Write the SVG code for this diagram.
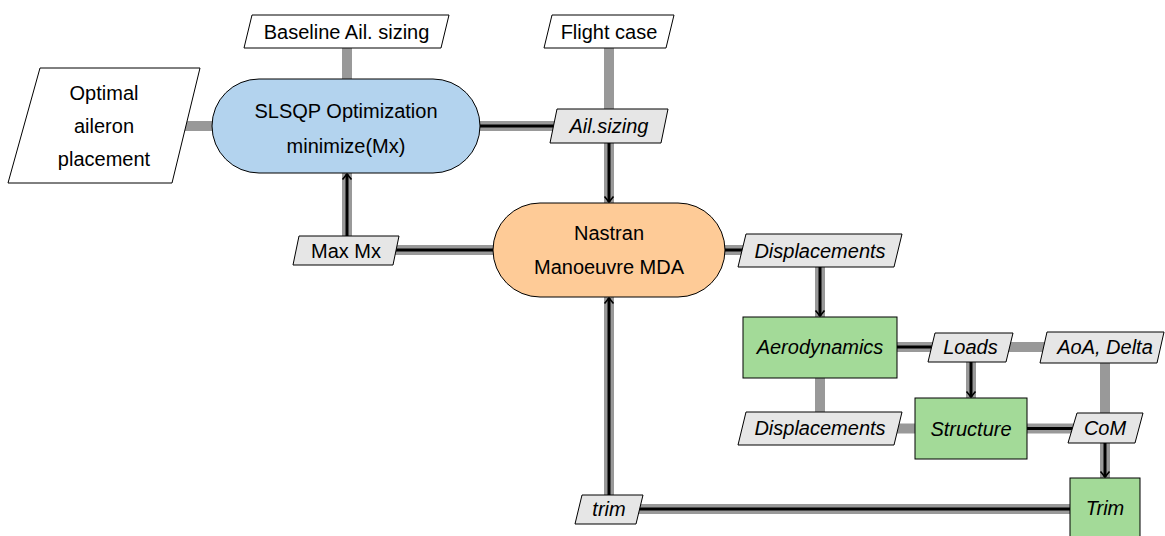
<svg xmlns="http://www.w3.org/2000/svg" width="1165" height="536" viewBox="0 0 1165 536">
<style>
text{font-family:"Liberation Sans",Arial,sans-serif;font-size:20px;fill:#000;text-anchor:middle}
.it{font-style:italic}
.io{fill:#fff;stroke:#000;stroke-width:1}
.data{fill:#e6e6e6;stroke:#000;stroke-width:1}
.opt{fill:#b3d3ee;stroke:#000;stroke-width:1}
.mda{fill:#fecb97;stroke:#000;stroke-width:1}
.fn{fill:#a3da98;stroke:#000;stroke-width:1}
.g{stroke:#999;stroke-width:10;fill:none}
.b{stroke:#000;stroke-width:3;fill:none}
.a{stroke:#000;stroke-width:3;fill:none;marker-end:url(#arr)}
</style>
<defs>
<marker id="arr" markerUnits="userSpaceOnUse" viewBox="-7 -6 8 12" markerWidth="8" markerHeight="12" refX="0" refY="0" orient="auto">
<path d="M-5.5,-4.5 L0,0 L-5.5,4.5" fill="none" stroke="#000" stroke-width="1.6"/>
</marker>
</defs>
<g id="connectors">
<line class="g" x1="104" y1="126" x2="346" y2="126"/>
<line class="g" x1="347" y1="32" x2="347" y2="126"/>
<line class="g" x1="609" y1="32" x2="609" y2="126"/>
<line class="g" x1="346" y1="126" x2="609" y2="126"/>
<line class="g" x1="609" y1="126" x2="609" y2="250"/>
<line class="g" x1="347" y1="250" x2="347" y2="126"/>
<line class="g" x1="346" y1="250" x2="609" y2="250"/>
<line class="g" x1="609" y1="250" x2="820" y2="250"/>
<line class="g" x1="820" y1="250" x2="820" y2="347"/>
<line class="g" x1="820" y1="347" x2="820" y2="428"/>
<line class="g" x1="820" y1="428.5" x2="971" y2="428.5"/>
<line class="g" x1="820" y1="347" x2="971" y2="347"/>
<line class="g" x1="971" y1="347" x2="1105" y2="347"/>
<line class="g" x1="971" y1="347" x2="971" y2="428"/>
<line class="g" x1="1105" y1="347" x2="1105" y2="428"/>
<line class="g" x1="971" y1="428.5" x2="1105" y2="428.5"/>
<line class="g" x1="1105" y1="428" x2="1105" y2="509"/>
<line class="g" x1="609" y1="509" x2="1105" y2="509"/>
<line class="g" x1="609" y1="509" x2="609" y2="250"/>
<line class="b" x1="480" y1="126" x2="556" y2="126"/>
<line class="a" x1="609" y1="143" x2="609" y2="202"/>
<line class="a" x1="347" y1="236" x2="347" y2="174"/>
<line class="b" x1="396" y1="250" x2="494" y2="250"/>
<line class="b" x1="724" y1="250" x2="743" y2="250"/>
<line class="a" x1="820" y1="267" x2="820" y2="316"/>
<line class="b" x1="897" y1="347" x2="933" y2="347"/>
<line class="a" x1="971" y1="362" x2="971" y2="397"/>
<line class="b" x1="1027" y1="428.5" x2="1073" y2="428.5"/>
<line class="a" x1="1105" y1="443" x2="1105" y2="477"/>
<line class="b" x1="639" y1="509" x2="1070" y2="509"/>
<line class="a" x1="609" y1="495" x2="609" y2="298"/>
</g>
<g id="optimal">
<polygon class="io" points="40,68 200,68 172,183 8,183"/>
<text x="104" y="100">Optimal</text>
<text x="104" y="133">aileron</text>
<text x="104" y="166">placement</text>
</g>
<g id="baseline">
<polygon class="io" points="252,15 449,15 441,48 244,48"/>
<text x="346.5" y="39">Baseline Ail. sizing</text>
</g>
<g id="flightcase">
<polygon class="io" points="552,15 674,15 666,48 544,48"/>
<text x="609" y="39">Flight case</text>
</g>
<g id="slsqp">
<rect class="opt" x="212" y="79" width="268" height="94" rx="47" ry="47"/>
<text x="346" y="118">SLSQP Optimization</text>
<text x="346" y="153">minimize(Mx)</text>
</g>
<g id="ailsizing">
<polygon class="data" points="557,109 668,109 661,143 550,143"/>
<text class="it" x="609" y="133">Ail.sizing</text>
</g>
<g id="maxmx">
<polygon class="data" points="299,236 399,236 393,265 293,265"/>
<text x="346" y="257.5">Max Mx</text>
</g>
<g id="nastran">
<rect class="mda" x="493" y="203" width="232" height="94" rx="47" ry="47"/>
<text x="609" y="240">Nastran</text>
<text x="609" y="274">Manoeuvre MDA</text>
</g>
<g id="displacements1">
<polygon class="data" points="746,234 902,234 894,267 738,267"/>
<text class="it" x="820" y="257.5">Displacements</text>
</g>
<g id="aerodynamics">
<rect class="fn" x="743" y="317" width="154" height="61"/>
<text class="it" x="820" y="354">Aerodynamics</text>
</g>
<g id="loads">
<polygon class="data" points="935,333 1013,333 1006,362 928,362"/>
<text class="it" x="970.5" y="354">Loads</text>
</g>
<g id="aoadelta">
<polygon class="data" points="1047,332 1164,332 1157,363 1040,363"/>
<text class="it" x="1105" y="354">AoA, Delta</text>
</g>
<g id="displacements2">
<polygon class="data" points="746,412 902,412 894,445 738,445"/>
<text class="it" x="820" y="435">Displacements</text>
</g>
<g id="structure">
<rect class="fn" x="915" y="398" width="112" height="61"/>
<text class="it" x="971" y="435.5">Structure</text>
</g>
<g id="com">
<polygon class="data" points="1077,413 1143,413 1135,443 1068,443"/>
<text class="it" x="1105" y="435">CoM</text>
</g>
<g id="trimfn">
<rect class="fn" x="1070" y="478" width="70" height="62"/>
<text class="it" x="1105" y="515">Trim</text>
</g>
<g id="trimdata">
<polygon class="data" points="582,495 643,495 636,524 575,524"/>
<text class="it" x="609" y="516">trim</text>
</g>
</svg>
